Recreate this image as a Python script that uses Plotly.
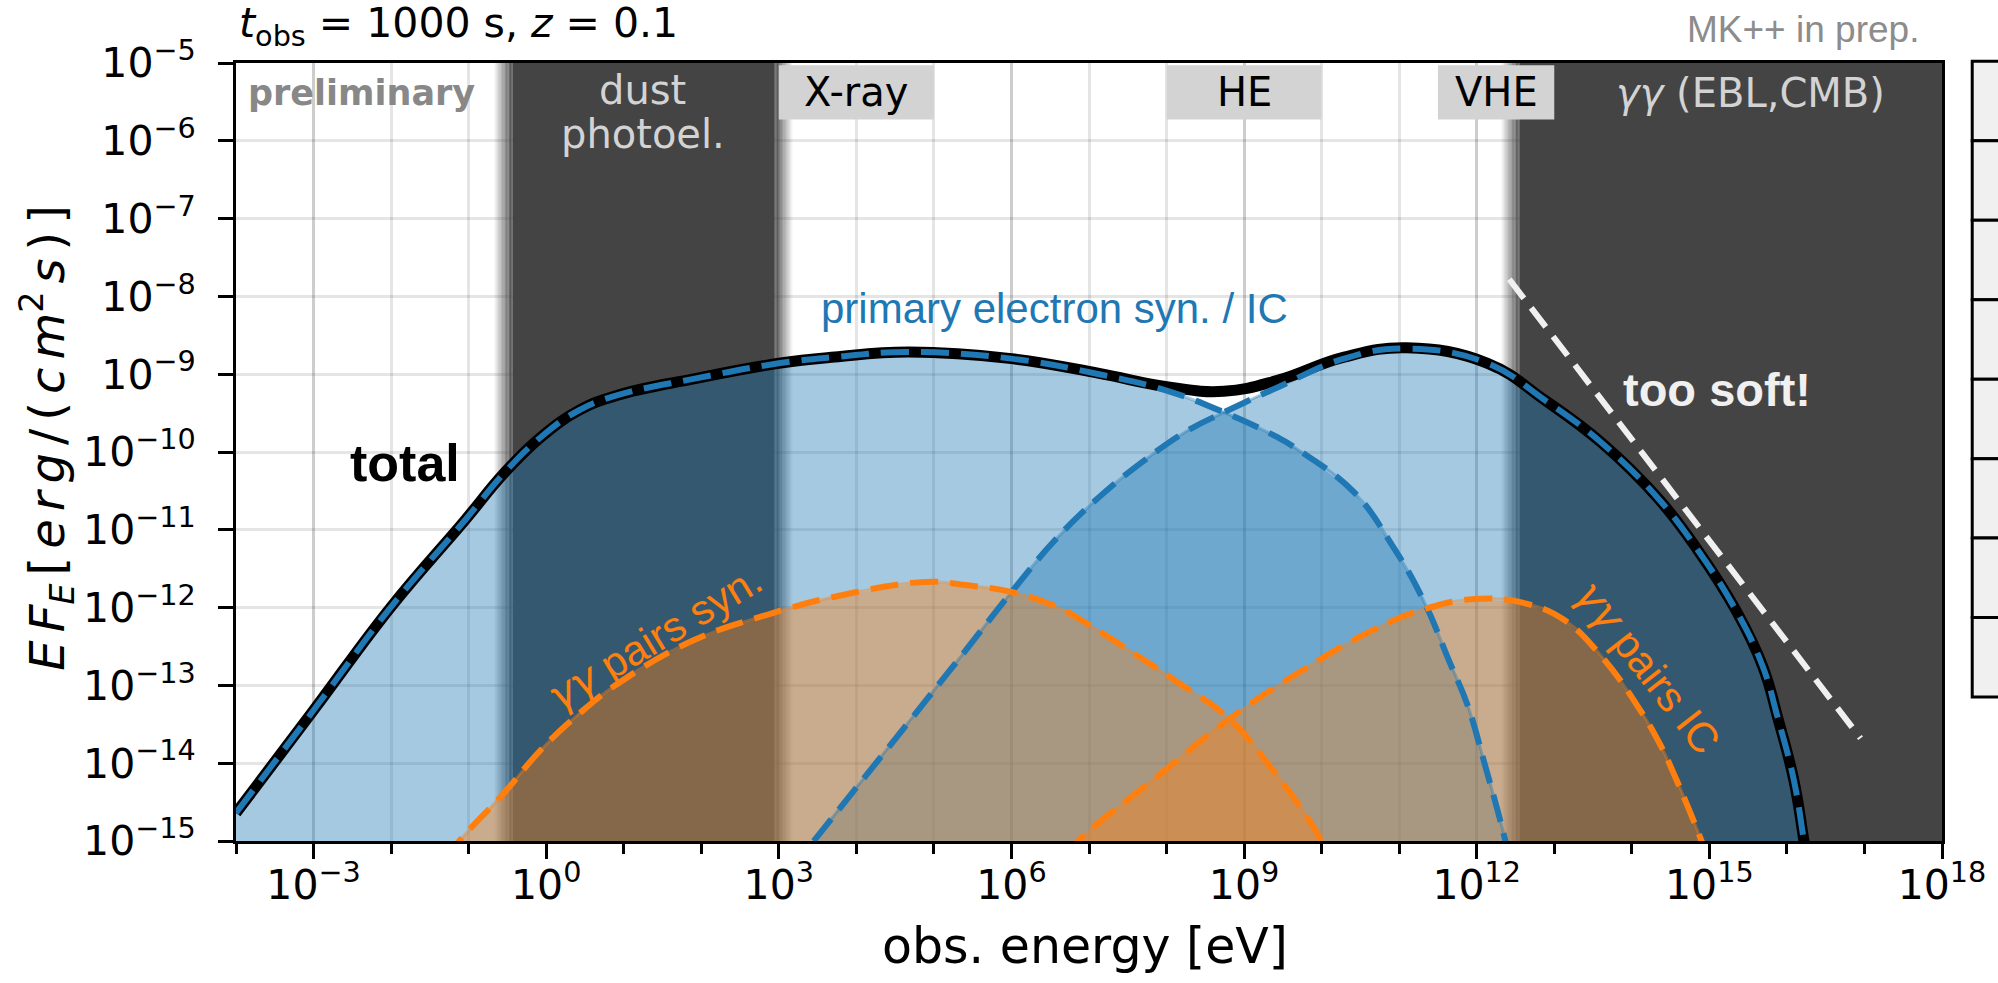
import plotly.graph_objects as go

# ---------------- data: log10(E / eV) and log10(E F_E / erg cm^-2 s^-1) ----------------
total_logE = [-4, -3, -2, -1.05, -0.55, -0.07, 0.43, 0.92, 1.9, 3.0, 3.72, 4.67, 6.0, 7.13,
              8.0, 8.74, 9.43, 10.29, 11.1, 12.14, 12.88, 13.62, 14.36, 14.85, 15.34, 15.69,
              15.88, 16.09, 16.22, 16.35]
total_logF = [-14.64, -13.32, -11.99, -10.88, -10.28, -9.81, -9.46, -9.27, -9.06, -8.86, -8.78,
              -8.715, -8.80, -8.99, -9.16, -9.22, -9.08, -8.78, -8.66, -8.86, -9.335, -9.89,
              -10.62, -11.26, -12.03, -12.76, -13.41, -14.22, -15.0, -15.8]

syn_logE = [-4, -3, -2, -1.05, -0.55, -0.07, 0.43, 0.92, 1.9, 3.0, 3.72, 4.67, 6.0, 7.13,
            8.0, 8.74, 9.43, 9.68, 10.42, 10.91, 11.3, 11.65, 11.88, 12.1, 12.37, 12.5]
syn_logF = [-14.64, -13.32, -11.99, -10.88, -10.28, -9.81, -9.46, -9.27, -9.06, -8.86, -8.78,
            -8.715, -8.80, -9.00, -9.21, -9.49, -9.81, -9.96, -10.52, -11.2, -11.88, -12.7,
            -13.25, -14.0, -15.0, -15.6]

ic_logE = [3.45, 4.9, 5.41, 5.985, 6.56, 7.13, 7.71, 8.28, 8.74, 9.43, 10.29, 11.1, 12.14,
           12.88, 13.62, 14.36, 14.85, 15.34, 15.69, 15.88, 16.09, 16.22, 16.35]
ic_logF = [-15.0, -13.19, -12.55, -11.82, -11.135, -10.58, -10.11, -9.72, -9.49, -9.17, -8.80,
           -8.67, -8.86, -9.335, -9.89, -10.62, -11.26, -12.03, -12.76, -13.41, -14.22, -15.0,
           -15.8]

pairs_syn_logE = [-1.3, -1.12, -0.55, -0.07, 0.43, 0.92, 1.9, 2.89, 3.72, 4.89, 5.41, 6.0,
                  6.56, 7.0, 7.44, 8.1, 8.81, 9.34, 9.75, 10.0, 10.15]
pairs_syn_logF = [-15.25, -15.0, -14.39, -13.83, -13.36, -12.98, -12.42, -12.08, -11.86, -11.67,
                  -11.71, -11.8, -11.98, -12.22, -12.5, -12.93, -13.43, -14.05, -14.6, -15.0,
                  -15.3]

pairs_ic_logE = [6.7, 6.86, 7.87, 8.81, 9.68, 10.66, 11.355, 12.05, 12.64, 13.13, 13.62, 14.11,
                 14.36, 14.57, 14.9, 15.05]
pairs_ic_logF = [-15.2, -15.0, -14.18, -13.43, -12.85, -12.29, -12.01, -11.885, -11.95, -12.16,
                 -12.64, -13.32, -13.75, -14.2, -15.0, -15.4]

# power law marked as "too soft!"
soft_logE = [12.42, 16.95]
soft_logF = [-7.78, -13.68]

# absorbed / unobservable energy windows (log10 eV)
dust_band = [-0.553, 3.06]
gg_band = [12.435, 18.5]

# instrument windows (log10 eV) and their labels
windows = [("X-ray", 3.0, 5.0), ("HE", 8.0, 10.0), ("VHE", 11.5, 13.0)]

x_ticks = [-3, 0, 3, 6, 9, 12, 15, 18]
y_ticks = list(range(-15, -4))

# ---------------- styling ----------------
BLUE = "#1f77b4"
ORANGE = "#ff7f0e"
BLUE_FILL = "rgba(31,119,180,0.4)"
ORANGE_FILL = "rgba(255,127,14,0.4)"
DARK = (68, 68, 68)
MATH = "DejaVu Sans"
SANS = "Liberation Sans"
SMOOTH = 1.2

# plot-area pixel frame
L, R, T, B = 236, 1946.7, 62.7, 841.0


def px(x):
    return (x - L) / (R - L)


def py(y):
    return (B - y) / (B - T)


def pw(v):
    return [10 ** a for a in v]


fig = go.Figure()


# dark bands with soft edges
def band_traces(lo, hi, soft=0.12, steps=14, soft_right=True):
    pieces = []
    core_lo = lo + soft
    core_hi = hi - soft if soft_right else hi
    pieces.append((core_lo, core_hi, 1.0))
    edges = [(lo, +1)]
    if soft_right:
        edges.append((hi, -1))
    for c, sgn in edges:
        for i in range(steps):
            a0 = c - soft + 2 * soft * i / steps
            a1 = c - soft + 2 * soft * (i + 1) / steps
            op = (i + 0.5) / steps if sgn > 0 else 1 - (i + 0.5) / steps
            pieces.append((a0, a1, op))
    for a0, a1, op in pieces:
        fig.add_trace(go.Scatter(
            x=[10 ** a0, 10 ** a1, 10 ** a1, 10 ** a0, 10 ** a0],
            y=[1e-17, 1e-17, 1e-3, 1e-3, 1e-17],
            mode="lines", fill="toself", line=dict(width=0),
            fillcolor=f"rgba({DARK[0]},{DARK[1]},{DARK[2]},{op:.3f})",
            hoverinfo="skip", showlegend=False))


band_traces(dust_band[0], dust_band[1], soft_right=True)
band_traces(gg_band[0], gg_band[1], soft_right=False)


def fill_component(lx, ly, color):
    xs = pw(lx)
    ys = pw(ly)
    fig.add_trace(go.Scatter(
        x=xs + xs[::-1], y=ys + [1e-17] * len(xs),
        mode="lines", fill="toself", fillcolor=color,
        line=dict(width=0), hoverinfo="skip", showlegend=False))


def edge_line(lx, ly, color):
    fig.add_trace(go.Scatter(
        x=pw(lx), y=pw(ly), mode="lines",
        line=dict(color=color, width=3, shape="spline", smoothing=SMOOTH),
        hoverinfo="skip", showlegend=False))


def dashed(lx, ly, color):
    fig.add_trace(go.Scatter(
        x=pw(lx), y=pw(ly), mode="lines",
        line=dict(color=color, width=6, dash="28px,12px", shape="spline", smoothing=SMOOTH),
        hoverinfo="skip", showlegend=False))


components = [
    (syn_logE, syn_logF, BLUE, BLUE_FILL),
    (ic_logE, ic_logF, BLUE, BLUE_FILL),
    (pairs_syn_logE, pairs_syn_logF, ORANGE, ORANGE_FILL),
    (pairs_ic_logE, pairs_ic_logF, ORANGE, ORANGE_FILL),
]

for lx, ly, c, fc in components:
    fill_component(lx, ly, fc)
for lx, ly, c, fc in components:
    edge_line(lx, ly, fc)

# total spectrum
fig.add_trace(go.Scatter(
    x=pw(total_logE), y=pw(total_logF), mode="lines",
    line=dict(color="black", width=11, shape="spline", smoothing=SMOOTH),
    hoverinfo="skip", showlegend=False))

for lx, ly, c, fc in components:
    dashed(lx, ly, c)

# "too soft!" power law
fig.add_trace(go.Scatter(
    x=pw(soft_logE), y=pw(soft_logF), mode="lines",
    line=dict(color="#f0f0f0", width=6, dash="24px,12px"),
    hoverinfo="skip", showlegend=False))

# ---------------- axes ----------------
sup = lambda k: f"10<sup>{str(k).replace('-', '−')}</sup>"

fig.update_xaxes(
    type="log", range=[-4, 18],
    tickmode="array", tickvals=[10 ** k for k in x_ticks], ticktext=[sup(k) for k in x_ticks],
    ticks="outside", ticklen=15, tickwidth=3, tickcolor="black",
    showline=True, linewidth=3, linecolor="black", mirror=True,
    showgrid=True, gridcolor="rgba(0,0,0,0.10)", gridwidth=2.5,
    tickfont=dict(family=MATH, size=41, color="black"),
    ticklabelstandoff=-9,
    minor=dict(tickmode="array", tickvals=[10 ** k for k in range(-4, 19)],
               ticks="outside", ticklen=10, tickwidth=2.5, tickcolor="black",
               showgrid=True, gridcolor="rgba(0,0,0,0.10)", gridwidth=2.5),
    zeroline=False,
)
fig.update_yaxes(
    type="log", range=[-15, -5],
    tickmode="array", tickvals=[10 ** k for k in y_ticks], ticktext=[sup(k) for k in y_ticks],
    ticks="outside", ticklen=15, tickwidth=3, tickcolor="black",
    showline=True, linewidth=3, linecolor="black", mirror=True,
    showgrid=True, gridcolor="rgba(0,0,0,0.10)", gridwidth=2.5,
    tickfont=dict(family=MATH, size=41, color="black"),
    ticklabelstandoff=14,
    zeroline=False,
)

# ---------------- shapes: window boxes and side table ----------------
shapes = []
for name, a, b in windows:
    shapes.append(dict(type="rect", xref="x", yref="paper", x0=10 ** a, x1=10 ** b,
                       y0=py(119.3), y1=py(65), fillcolor="#d3d3d3",
                       line=dict(width=0), layer="above"))

rows = 8
top_px, bot_px = 61, 697
for i in range(rows):
    y0 = top_px + (bot_px - top_px) * i / rows
    y1 = top_px + (bot_px - top_px) * (i + 1) / rows
    shapes.append(dict(type="rect", xref="paper", yref="paper",
                       x0=px(1977), x1=px(2010), y0=py(y1), y1=py(y0),
                       fillcolor="#f0f0f0", line=dict(color="black", width=3),
                       layer="above"))
fig.update_layout(shapes=shapes)

# ---------------- text ----------------
ann = []


def text(x, y, s, size, color, family, angle=0, xanchor="center"):
    ann.append(dict(x=px(x), y=py(y), xref="paper", yref="paper", text=s,
                    showarrow=False, textangle=angle, xanchor=xanchor, yanchor="middle",
                    font=dict(size=size, color=color, family=family)))


GG = f"<span style=\"font-family:'{MATH}'\"><i>γγ</i></span>"
SP = "\u2006"  # six-per-em space between math glyphs

text(237, 26, "<i>t</i><sub>obs</sub> = 1000 s, <i>z</i> = 0.1", 41, "black", MATH, xanchor="left")
text(1926, 29, "MK++ in prep.", 37, "#8c8c8c", SANS, xanchor="right")
text(361.5, 93, "<b>preliminary</b>", 35, "#888888", MATH)
text(644, 90, "dust", 40, "#d3d3d3", MATH)
text(644, 134, "photoel.", 40, "#d3d3d3", MATH)
for name, a, b in windows:
    cx = L + (R - L) * ((a + b) / 2 + 4) / 22
    text(cx, 92, name, 40, "black", MATH)
text(1755, 93, f"<i>γγ</i> (EBL,CMB)", 40, "#d3d3d3", MATH)
text(1057, 308, "primary electron syn. / IC", 42, BLUE, SANS)
text(405, 463, "<b>total</b>", 52, "black", SANS)
text(1721, 389, "<b>too soft!</b>", 47, "#f0f0f0", SANS)
text(656, 637, GG + " pairs syn.", 42, ORANGE, SANS, angle=-31)
text(1652, 667, GG + " pairs IC", 42, ORANGE, SANS, angle=52)

# axis titles
text(1087, 947, "obs. energy [eV]", 49, "black", MATH)
ylab = (f"<i>E{SP}F</i><sub><i>E</i></sub>{SP}[{SP}<i>e{SP}r{SP}g</i>{SP}/{SP}({SP}"
        f"<i>c{SP}m</i><sup>2</sup>{SP}<i>s</i>{SP}){SP}]")
text(46, 438, ylab, 48, "black", MATH, angle=-90)

fig.update_layout(
    annotations=ann,
    width=1998, height=983,
    margin=dict(l=L, r=1998 - R, t=T, b=983 - B, pad=0),
    paper_bgcolor="white", plot_bgcolor="white",
    showlegend=False,
)

fig.write_html("out.html")
